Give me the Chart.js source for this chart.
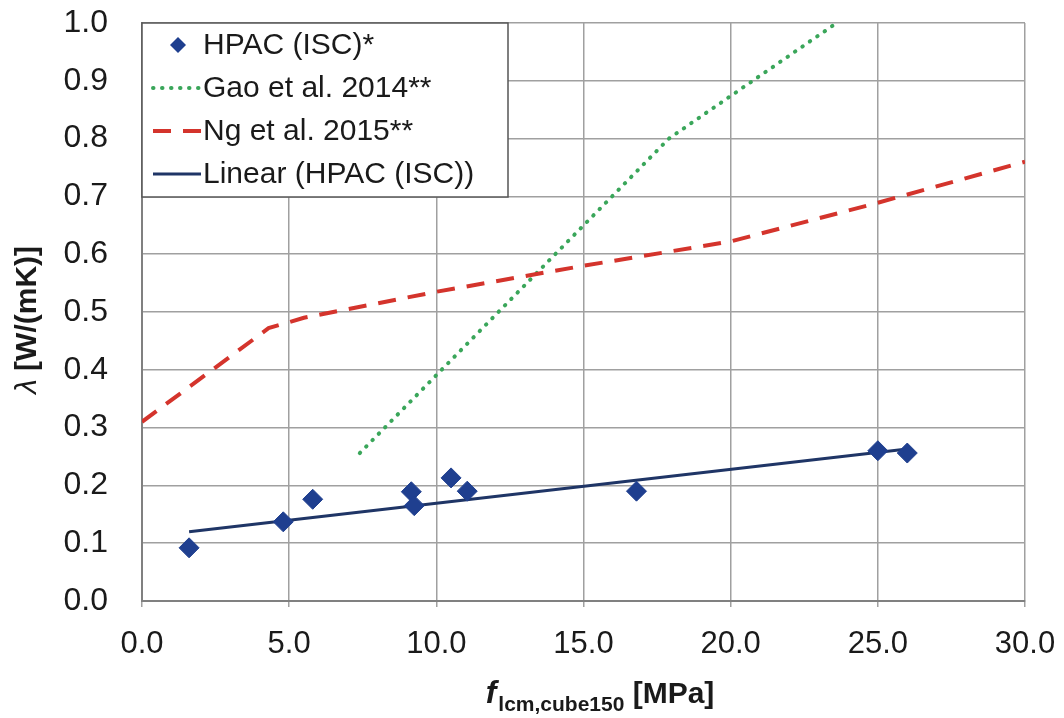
<!DOCTYPE html>
<html>
<head>
<meta charset="utf-8">
<script src="https://cdn.jsdelivr.net/npm/chart.js@4/dist/chart.umd.min.js"></script>
<style>
  body { margin: 0; background: #fff; }
</style>
</head>
<body>
<canvas id="chart" width="1064" height="718"></canvas>
<script>
// ======================
// Data
// ======================
const hpacX = [1.6, 4.8, 5.8, 9.15, 9.25, 10.5, 11.05, 16.8, 25.0, 26.0];
const hpacY = [0.092, 0.137, 0.176, 0.189, 0.165, 0.213, 0.19, 0.19, 0.26, 0.256];

const gaoX = [7.4, 17.9, 23.6];
const gaoY = [0.256, 0.8, 1.0];

const ngX = [0, 4.3, 5.5, 10, 15, 20, 25, 30];
const ngY = [0.31, 0.472, 0.49, 0.535, 0.58, 0.622, 0.689, 0.76];

const linX = [1.6, 26.0];
const linY = [0.12, 0.263];

const xTicks = [0, 5, 10, 15, 20, 25, 30];
const yTicks = [0, 0.1, 0.2, 0.3, 0.4, 0.5, 0.6, 0.7, 0.8, 0.9, 1.0];

const seriesNames = ["HPAC (ISC)*", "Gao et al. 2014**", "Ng et al. 2015**", "Linear (HPAC (ISC))"];

const FONT = "'Liberation Sans', Arial, sans-serif";

function pts(xs, ys) {
    return xs.map((x, i) => ({ x: x, y: ys[i] }));
}

// ======================
// Plugin: legend box + axis titles
// ======================
const extras = {
    id: "extras",
    afterDatasetsDraw(chart) {
        const ctx = chart.ctx;
        const area = chart.chartArea;
        ctx.save();

        // legend box in upper left corner of plot
        const bx = area.left, by = area.top, bw = 366, bh = 174;
        ctx.fillStyle = "#fff";
        ctx.fillRect(bx, by, bw, bh);
        ctx.strokeStyle = "#555";
        ctx.lineWidth = 1.5;
        ctx.strokeRect(bx, by, bw, bh);

        const rows = [22, 65, 108, 151];
        const ds = chart.data.datasets;
        ctx.font = "30px " + FONT;
        ctx.textBaseline = "middle";
        ctx.textAlign = "left";
        rows.forEach((off, i) => {
            const ry = by + off;
            const d = ds[i];
            if (i === 0) {
                ctx.fillStyle = d.backgroundColor;
                ctx.beginPath();
                ctx.moveTo(178, ry - 8);
                ctx.lineTo(186, ry);
                ctx.lineTo(178, ry + 8);
                ctx.lineTo(170, ry);
                ctx.closePath();
                ctx.fill();
            } else {
                ctx.strokeStyle = d.borderColor;
                ctx.lineWidth = d.borderWidth;
                ctx.lineCap = d.borderCapStyle || "butt";
                ctx.setLineDash(d.borderDash || []);
                ctx.beginPath();
                ctx.moveTo(153, ry);
                ctx.lineTo(201, ry);
                ctx.stroke();
                ctx.setLineDash([]);
            }
            ctx.fillStyle = "#1a1a1a";
            ctx.fillText(seriesNames[i], 203, ry + 1);
        });

        // y axis title: λ [W/(mK)]
        ctx.save();
        ctx.translate(28, 320);
        ctx.rotate(-Math.PI / 2);
        const f1 = "italic 30px " + FONT, f2 = "bold 30px " + FONT;
        ctx.font = f1;
        const w1 = ctx.measureText("\u03bb ").width;
        ctx.font = f2;
        const w2 = ctx.measureText("[W/(mK)]").width;
        let sx = -(w1 + w2) / 2;
        ctx.fillStyle = "#1a1a1a";
        ctx.textBaseline = "middle";
        ctx.font = f1;
        ctx.fillText("\u03bb ", sx, 0);
        ctx.font = f2;
        ctx.fillText("[W/(mK)]", sx + w1, 0);
        ctx.restore();

        // x axis title: f_lcm,cube150 [MPa]
        const fa = "bold italic 32px " + FONT;
        const fb = "bold 21px " + FONT;
        const fc = "bold 30px " + FONT;
        ctx.textBaseline = "alphabetic";
        ctx.font = fa; const wa = ctx.measureText("f").width + 2;
        ctx.font = fb; const wb = ctx.measureText("lcm,cube150").width;
        ctx.font = fc; const wc = ctx.measureText(" [MPa]").width;
        let tx = 600 - (wa + wb + wc) / 2;
        const base = 703;
        ctx.fillStyle = "#1a1a1a";
        ctx.font = fa; ctx.fillText("f", tx, base); tx += wa;
        ctx.font = fb; ctx.fillText("lcm,cube150", tx, base + 8); tx += wb;
        ctx.font = fc; ctx.fillText(" [MPa]", tx, base);

        ctx.restore();
    }
};

// ======================
// Chart
// ======================
const ctx = document.getElementById("chart").getContext("2d");

new Chart(ctx, {
    type: "scatter",
    data: {
        datasets: [
            {
                label: seriesNames[0],
                data: pts(hpacX, hpacY),
                pointStyle: "rectRot",
                pointRadius: 10,
                backgroundColor: "#1f3f8f",
                borderColor: "#1f3f8f",
                borderWidth: 1,
                showLine: false,
                order: 0
            },
            {
                label: seriesNames[1],
                data: pts(gaoX, gaoY),
                showLine: true,
                pointRadius: 0,
                borderColor: "#3aa65a",
                borderWidth: 4,
                borderDash: [0.5, 8.5],
                borderCapStyle: "round",
                order: 3
            },
            {
                label: seriesNames[2],
                data: pts(ngX, ngY),
                showLine: true,
                pointRadius: 0,
                borderColor: "#d4342c",
                borderWidth: 4,
                borderDash: [18, 12],
                order: 2
            },
            {
                label: seriesNames[3],
                data: pts(linX, linY),
                showLine: true,
                pointRadius: 0,
                borderColor: "#1f3566",
                borderWidth: 3,
                order: 1
            }
        ]
    },
    options: {
        responsive: false,
        animation: false,
        layout: { padding: { left: 0, right: 39, top: 23, bottom: 0 } },
        plugins: {
            legend: { display: false },
            tooltip: { enabled: false }
        },
        scales: {
            x: {
                type: "linear",
                min: 0,
                max: 30,
                afterBuildTicks: s => { s.ticks = xTicks.map(v => ({ value: v })); },
                afterFit: s => { s.height = 117; },
                grid: { color: "#a0a0a0", lineWidth: 1.5, tickLength: 6 },
                border: { color: "#808080", width: 2 },
                ticks: {
                    padding: 8,
                    color: "#1a1a1a",
                    font: { family: FONT, size: 31, lineHeight: 1.9 },
                    callback: v => v.toFixed(1),
                    maxRotation: 0
                }
            },
            y: {
                type: "linear",
                min: 0,
                max: 1,
                afterBuildTicks: s => { s.ticks = yTicks.map(v => ({ value: v })); },
                afterFit: s => { s.width = 142; },
                grid: { color: "#a0a0a0", lineWidth: 1.5, tickLength: 34, tickColor: "rgba(0,0,0,0)" },
                border: { color: "#808080", width: 2 },
                ticks: {
                    padding: 0,
                    color: "#1a1a1a",
                    font: { family: FONT, size: 32 },
                    callback: v => v.toFixed(1)
                }
            }
        }
    },
    plugins: [extras]
});
</script>
</body>
</html>
